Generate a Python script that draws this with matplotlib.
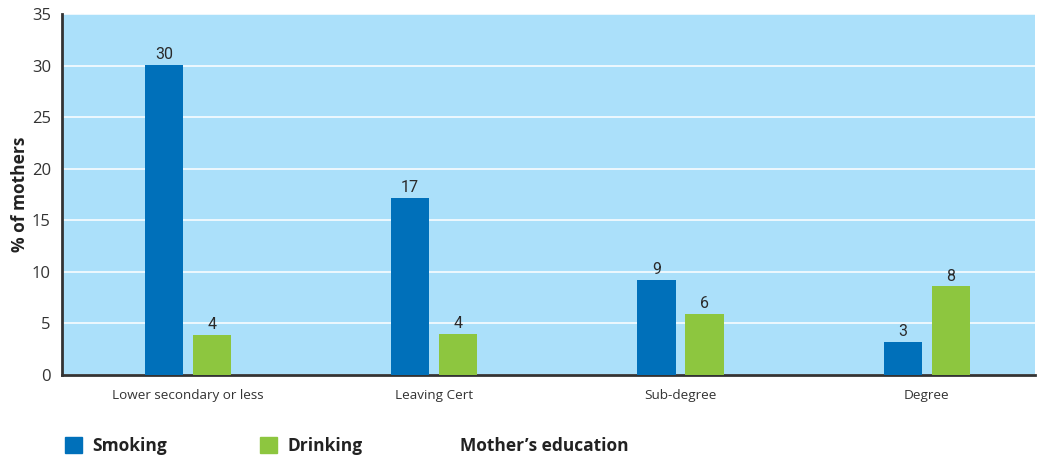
import matplotlib
matplotlib.use("Agg")
import matplotlib.pyplot as plt
import numpy as np
from matplotlib.patches import Patch

categories = ["Lower secondary or less", "Leaving Cert", "Sub-degree", "Degree"]
smoking = [30.1, 17.2, 9.2, 3.2]
drinking = [3.9, 4.0, 5.9, 8.6]
smoking_labels = ["30", "17", "9", "3"]
drinking_labels = ["4", "4", "6", "8"]
yticks = [0, 5, 10, 15, 20, 25, 30, 35]

BLUE = "#0070BA"
GREEN = "#8DC63F"
BG = "#ABE0FA"
TXT = "#333333"

plt.rcParams['font.family'] = ['Open Sans', 'DejaVu Sans']

fig = plt.figure(figsize=(10.39, 4.58), dpi=100)
ax = fig.add_axes([62/1039, 83/458, (1035-62)/1039, (375.5-14.5)/458])
ax.set_facecolor(BG)

x = np.arange(len(categories))
w = 0.155
off = 0.0976
b1 = ax.bar(x - off, smoking, w, color=BLUE, zorder=3)
b2 = ax.bar(x + off, drinking, w, color=GREEN, zorder=3)

lab_font = dict(family=['Roboto', 'Open Sans', 'DejaVu Sans'], fontsize=11.5, color="#2a2a2a")
for rect, lab in zip(b1, smoking_labels):
    ax.annotate(lab, (rect.get_x() + rect.get_width()/2, rect.get_height()),
                xytext=(0, 2), textcoords="offset points", ha="center", va="bottom", **lab_font)
for rect, lab in zip(b2, drinking_labels):
    ax.annotate(lab, (rect.get_x() + rect.get_width()/2, rect.get_height()),
                xytext=(0, 2), textcoords="offset points", ha="center", va="bottom", **lab_font)

ax.set_ylim(0, 35)
ax.set_xlim(-0.512, 3.44)
ax.set_yticks(yticks)
ax.set_yticklabels([str(t) for t in yticks], fontsize=12, color=TXT)
ax.set_xticks(x)
ax.set_xticklabels(categories, fontsize=9.7, color=TXT)
ax.tick_params(axis='both', length=0)
ax.tick_params(axis='x', pad=10)
ax.tick_params(axis='y', pad=8)
ax.yaxis.grid(True, color="white", linewidth=1.1, zorder=1)
ax.set_axisbelow(True)

for s in ["top", "right"]:
    ax.spines[s].set_visible(False)
ax.spines["left"].set_color("#333333")
ax.spines["left"].set_linewidth(2)
ax.spines["bottom"].set_color("#333333")
ax.spines["bottom"].set_linewidth(2)

ax.set_ylabel("% of mothers", fontsize=12.5, fontweight="bold", color="#222222")
ax.yaxis.set_label_coords(-0.034, 0.5)

handles = [Patch(color=BLUE, label="Smoking"), Patch(color=GREEN, label="Drinking")]
leg = fig.legend(handles=handles, loc="center left", bbox_to_anchor=(49/1039, 1 - 446/458),
                 ncol=2, frameon=False, handlelength=1.0, handleheight=1.0, handletextpad=0.6,
                 columnspacing=5.35, prop=dict(family=['Open Sans', 'DejaVu Sans'], weight='bold', size=12.5))
for t in leg.get_texts():
    t.set_color("#222222")

fig.text(460/1039, 1 - 446/458, "Mother\u2019s education", fontsize=12.5, fontweight="bold",
         color="#222222", ha="left", va="center")

fig.savefig("out.png", dpi=100)
